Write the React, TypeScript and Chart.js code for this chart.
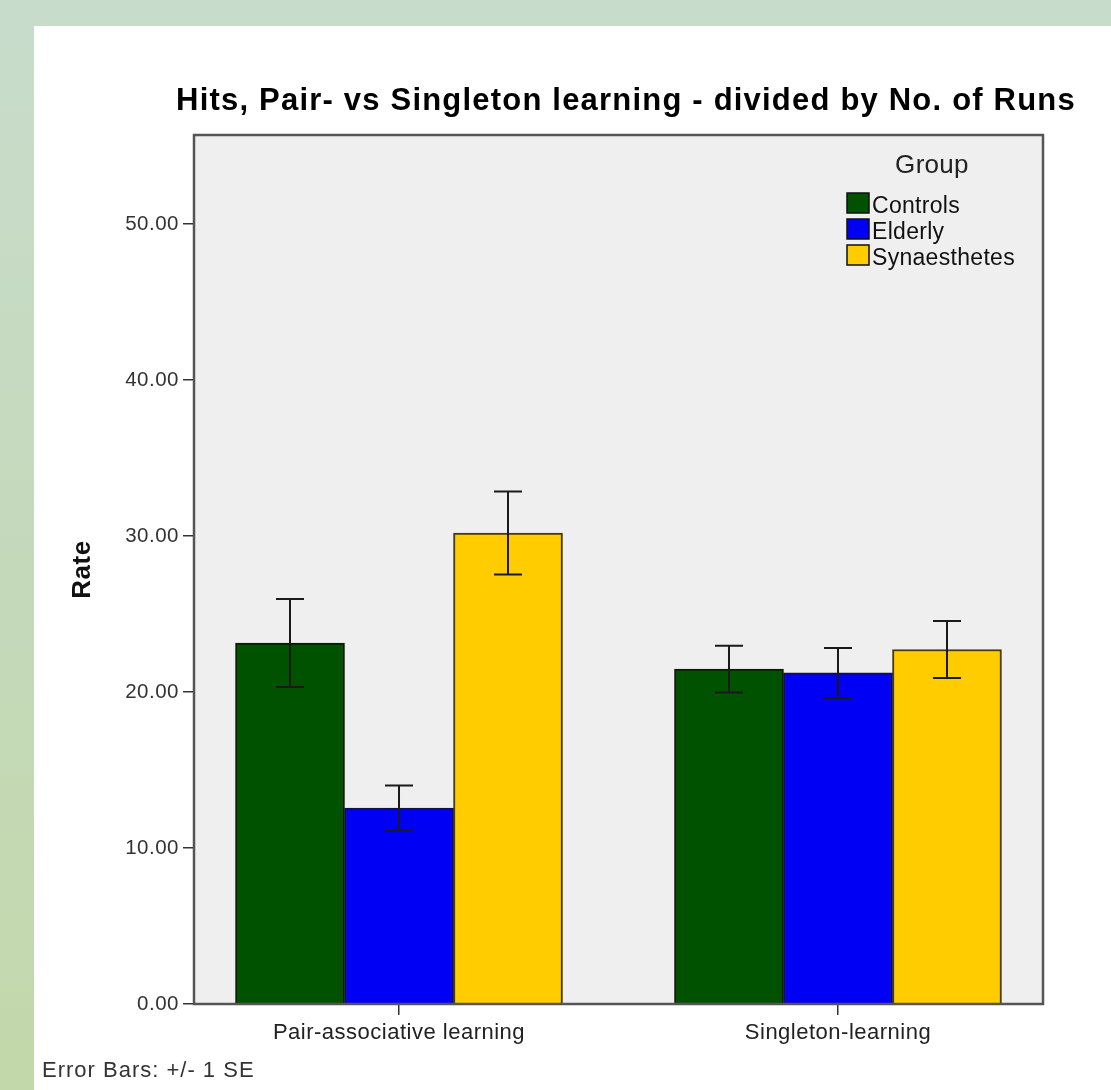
import React, { useEffect, useRef } from 'react';
import { Chart, registerables } from 'chart.js';

Chart.register(...registerables);

const categories = ['Pair-associative learning', 'Singleton-learning'];
const groupNames = ['Controls', 'Elderly', 'Synaesthetes'];
const controlsRate = [23.14, 21.47];
const elderlyRate = [12.56, 21.22];
const synaesthetesRate = [30.19, 22.72];
const controlsSE = [2.82, 1.5];
const elderlySE = [1.44, 1.6];
const synaesthetesSE = [2.66, 1.83];
const yTickValues = [0, 10, 20, 30, 40, 50];
const chartTitle = 'Hits, Pair- vs Singleton learning - divided by No. of Runs';
const yAxisTitle = 'Rate';
const legendTitle = 'Group';
const footnote = 'Error Bars: +/- 1 SE';

const FONT = "'Liberation Sans', Arial, Helvetica, sans-serif";
const groupColors = ['#005200', '#0000f5', '#ffcc00'];
const groupBorders = ['#0d1a08', '#10104a', '#4a3c00'];
const groupValues = [controlsRate, elderlyRate, synaesthetesRate];
const groupErrors = [controlsSE, elderlySE, synaesthetesSE];

const decorPlugin = {
  id: 'decor',
  beforeDraw(chart: any) {
    chart.ctx.letterSpacing = '0.5px';
  },
  beforeDatasetsDraw(chart: any) {
    const { ctx, chartArea: a } = chart;
    ctx.save();
    ctx.fillStyle = '#efefef';
    ctx.fillRect(a.left, a.top, a.right - a.left, a.bottom - a.top);
    ctx.restore();
  },
  afterDatasetsDraw(chart: any) {
    const { ctx, chartArea: a } = chart;
    const yScale = chart.scales.y;
    ctx.save();
    // error bars
    ctx.strokeStyle = '#1a1a1a';
    ctx.lineWidth = 2;
    chart.data.datasets.forEach((ds: any, di: number) => {
      const meta = chart.getDatasetMeta(di);
      meta.data.forEach((bar: any, i: number) => {
        const v = ds.data[i].y;
        const se = ds.errors[i];
        const yTop = yScale.getPixelForValue(v + se);
        const yBot = yScale.getPixelForValue(v - se);
        const x = bar.x;
        ctx.beginPath();
        ctx.moveTo(x, yTop);
        ctx.lineTo(x, yBot);
        ctx.moveTo(x - 14, yTop);
        ctx.lineTo(x + 14, yTop);
        ctx.moveTo(x - 14, yBot);
        ctx.lineTo(x + 14, yBot);
        ctx.stroke();
      });
    });
    // frame
    ctx.strokeStyle = '#555555';
    ctx.lineWidth = 2.5;
    ctx.strokeRect(a.left, a.top, a.right - a.left, a.bottom - a.top);

    // legend
    ctx.letterSpacing = '0.3px';
    ctx.fillStyle = '#222';
    ctx.font = `26px ${FONT}`;
    ctx.textAlign = 'center';
    ctx.textBaseline = 'alphabetic';
    ctx.fillText(legendTitle, 932, 173);
    ctx.textAlign = 'left';
    ctx.font = `23px ${FONT}`;
    chart.data.datasets.forEach((ds: any, di: number) => {
      const bottom = 213 + di * 26;
      ctx.fillStyle = ds.backgroundColor;
      ctx.fillRect(847, bottom - 20, 22, 20);
      ctx.strokeStyle = '#111';
      ctx.lineWidth = 1.5;
      ctx.strokeRect(847, bottom - 20, 22, 20);
      ctx.fillStyle = '#111';
      ctx.fillText(ds.label, 872, bottom);
    });

    // title
    ctx.letterSpacing = '1.2px';
    ctx.fillStyle = '#000';
    ctx.font = `bold 31px ${FONT}`;
    ctx.textAlign = 'center';
    ctx.fillText(chartTitle, 626, 110);

    // footnote
    ctx.letterSpacing = '1px';
    ctx.fillStyle = '#333';
    ctx.font = `22px ${FONT}`;
    ctx.textAlign = 'left';
    ctx.fillText(footnote, 42, 1077);
    ctx.restore();
  },
};

export default function App() {
  const canvasRef = useRef<HTMLCanvasElement | null>(null);

  useEffect(() => {
    if (!canvasRef.current) return;
    const chart = new Chart(canvasRef.current, {
      type: 'bar',
      data: {
        datasets: groupNames.map((name, gi) => ({
          label: name,
          data: categories.map((_, i) => ({ x: i, y: groupValues[gi][i] })),
          errors: groupErrors[gi],
          backgroundColor: groupColors[gi],
          borderColor: groupBorders[gi],
          borderWidth: 2,
          barThickness: 109,
        })) as any,
      },
      options: {
        animation: false,
        responsive: false,
        maintainAspectRatio: false,
        layout: { padding: { left: 0, right: 68, top: 135, bottom: 41 } },
        plugins: {
          legend: { display: false },
          title: { display: false },
          tooltip: { enabled: false },
        },
        scales: {
          x: {
            type: 'linear',
            min: -0.467,
            max: 1.467,
            offset: false,
            afterBuildTicks: (s: any) => {
              s.ticks = categories.map((_, i) => ({ value: i }));
            },
            afterFit: (s: any) => {
              s.height = 45;
            },
            grid: {
              display: true,
              offset: false,
              drawOnChartArea: false,
              drawTicks: true,
              tickLength: 11,
              color: '#333',
              lineWidth: 1.5,
            },
            border: { display: false },
            ticks: {
              autoSkip: false,
              maxRotation: 0,
              padding: 5,
              color: '#222',
              font: { family: FONT, size: 22 },
              callback: (v: any) => categories[Number(v)] ?? '',
            },
          },
          y: {
            type: 'linear',
            min: 0,
            max: 55.7,
            afterBuildTicks: (s: any) => {
              s.ticks = yTickValues.map((v) => ({ value: v }));
            },
            afterFit: (s: any) => {
              s.width = 194;
            },
            grid: {
              display: true,
              drawOnChartArea: false,
              drawTicks: true,
              tickLength: 11,
              color: '#333',
              lineWidth: 1.5,
            },
            border: { display: false },
            ticks: {
              padding: 4,
              color: '#333',
              font: { family: FONT, size: 20.5 },
              callback: (v: any) => Number(v).toFixed(2),
            },
            title: {
              display: true,
              text: yAxisTitle,
              color: '#111',
              font: { family: FONT, size: 26, weight: 'bold' },
              padding: { top: 67, bottom: 0 },
            },
          },
        },
      } as any,
      plugins: [decorPlugin],
    });
    return () => chart.destroy();
  }, []);

  return (
    <div
      style={{
        position: 'fixed',
        left: 0,
        top: 0,
        width: 1111,
        height: 1090,
        background: 'linear-gradient(180deg, #c8dccc 0%, #c4d9b8 60%, #c2d8aa 100%)',
        overflow: 'hidden',
      }}
    >
      <div
        style={{
          position: 'absolute',
          left: 34,
          top: 26,
          right: 0,
          bottom: 0,
          background: '#ffffff',
        }}
      />
      <canvas
        ref={canvasRef}
        width={1111}
        height={1090}
        style={{ position: 'absolute', left: 0, top: 0, width: 1111, height: 1090 }}
      />
    </div>
  );
}
